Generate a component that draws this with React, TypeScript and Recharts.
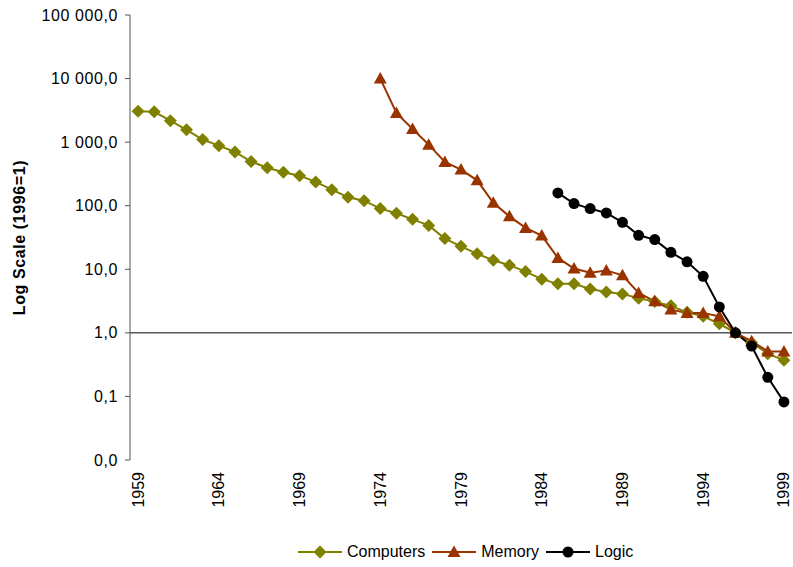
import React from 'react';
import { LineChart, Line, XAxis, YAxis, ReferenceLine, Legend, Label } from 'recharts';

const years = [
  1959, 1960, 1961, 1962, 1963, 1964, 1965, 1966, 1967, 1968,
  1969, 1970, 1971, 1972, 1973, 1974, 1975, 1976, 1977, 1978,
  1979, 1980, 1981, 1982, 1983, 1984, 1985, 1986, 1987, 1988,
  1989, 1990, 1991, 1992, 1993, 1994, 1995, 1996, 1997, 1998, 1999,
];

const computers = [
  3050, 3000, 2180, 1560, 1100, 880, 700, 495, 395, 335,
  297, 237, 179, 136, 120, 90, 76, 61, 49, 30.4,
  23, 17.5, 13.9, 11.6, 9.2, 7.0, 5.9, 5.9, 4.9, 4.4,
  4.1, 3.5, 3.1, 2.66, 2.1, 1.82, 1.39, 1.0, 0.7, 0.47, 0.37,
];

const memory = [
  null, null, null, null, null, null, null, null, null, null,
  null, null, null, null, null, 10000, 2880, 1610, 914, 489,
  370, 251, 111, 68, 44.8, 33.9, 15.1, 10.3, 8.8, 9.6,
  8.05, 4.25, 3.14, 2.32, 2.06, 2.06, 1.82, 1.0, 0.74, 0.51, 0.51,
];

const logic = [
  null, null, null, null, null, null, null, null, null, null,
  null, null, null, null, null, null, null, null, null, null,
  null, null, null, null, null, null, 159, 108, 90, 77,
  54.8, 34.2, 29.3, 18.5, 13.1, 7.76, 2.56, 1.0, 0.62, 0.2, 0.082,
];

const xTicks = [1959, 1964, 1969, 1974, 1979, 1984, 1989, 1994, 1999];
const yTicks = [0.01, 0.1, 1, 10, 100, 1000, 10000, 100000];
const yAxisTitle = 'Log Scale (1996=1)';

const series = [
  { key: 'Computers', color: '#808000', kind: 'diamond' },
  { key: 'Memory', color: '#993300', kind: 'triangle' },
  { key: 'Logic', color: '#000000', kind: 'circle' },
];

const data = years.map((year, i) => ({
  year,
  Computers: computers[i],
  Memory: memory[i],
  Logic: logic[i],
}));

const FONT = '"Liberation Sans", Arial, sans-serif';

function fmt(v: number): string {
  const s = v.toFixed(1);
  const [ip, dp] = s.split('.');
  return ip.replace(/\B(?=(\d{3})+(?!\d))/g, ' ') + ',' + dp;
}

function Marker({ kind, cx, cy, color }: any) {
  if (kind === 'diamond') {
    return <path d={`M${cx},${cy - 6.5}L${cx + 6.5},${cy}L${cx},${cy + 6.5}L${cx - 6.5},${cy}Z`} fill={color} />;
  }
  if (kind === 'triangle') {
    return <path d={`M${cx},${cy - 6.5}L${cx + 6.5},${cy + 5}L${cx - 6.5},${cy + 5}Z`} fill={color} />;
  }
  return <circle cx={cx} cy={cy} r={5.5} fill={color} />;
}

const makeDot = (kind: string, color: string) => (props: any) => {
  const { cx, cy, index } = props;
  const k = `dot-${kind}-${index}`;
  if (cx == null || cy == null || Number.isNaN(cx) || Number.isNaN(cy)) return <g key={k} />;
  return (
    <g key={k}>
      <Marker kind={kind} cx={cx} cy={cy} color={color} />
    </g>
  );
};

const XTick = (props: any) => {
  const { x, y, payload } = props;
  const ty = y + 12;
  return (
    <text
      x={x}
      y={ty}
      transform={`rotate(-90, ${x}, ${ty})`}
      textAnchor="end"
      dominantBaseline="central"
      fontSize={16}
      fontFamily={FONT}
      fill="#000"
    >
      {payload.value}
    </text>
  );
};

const YTick = (props: any) => {
  const { x, y, payload } = props;
  return (
    <text
      x={x}
      y={y}
      textAnchor="end"
      dominantBaseline="central"
      fontSize={16}
      fontFamily={FONT}
      letterSpacing={0.6}
      fill="#000"
    >
      {fmt(payload.value)}
    </text>
  );
};

const LegendContent = () => (
  <div style={{ display: 'flex', alignItems: 'center', paddingLeft: 298, fontFamily: FONT }}>
    {series.map((s) => (
      <div key={s.key} style={{ display: 'flex', alignItems: 'center', marginRight: 7 }}>
        <svg width={44} height={16} style={{ display: 'block' }}>
          <line x1={0} y1={8} x2={44} y2={8} stroke={s.color} strokeWidth={2} />
          <Marker kind={s.kind} cx={22} cy={8} color={s.color} />
        </svg>
        <span style={{ marginLeft: 5, fontSize: 16, color: '#000', lineHeight: '20px' }}>{s.key}</span>
      </div>
    ))}
  </div>
);

export default function App() {
  return (
    <div style={{ position: 'absolute', left: 0, top: 0, width: 793, height: 567, background: '#fff', fontFamily: FONT }}>
      <LineChart width={793} height={567} data={data} margin={{ top: 15, right: 1, bottom: 47, left: 0 }}>
        <XAxis
          dataKey="year"
          type="number"
          domain={[1958.5, 1999.5]}
          ticks={xTicks}
          allowDataOverflow
          axisLine={false}
          tickLine={false}
          tickSize={0}
          tickMargin={0}
          height={60}
          tick={<XTick />}
          interval={0}
        />
        <YAxis
          scale="log"
          type="number"
          domain={[0.01, 100000]}
          ticks={yTicks}
          allowDataOverflow
          width={130}
          tickSize={5}
          tickMargin={7}
          interval={0}
          tick={<YTick />}
          axisLine={{ stroke: '#555', strokeWidth: 1 }}
          tickLine={{ stroke: '#555', strokeWidth: 1 }}
        >
          <Label
            content={(p: any) => {
              const vb = p.viewBox || { x: 0, y: 15, width: 130, height: 445 };
              const cx = vb.x + 19;
              const cy = vb.y + vb.height / 2;
              return (
                <text
                  x={cx}
                  y={cy}
                  transform={`rotate(-90, ${cx}, ${cy})`}
                  textAnchor="middle"
                  dominantBaseline="central"
                  fontSize={16}
                  fontWeight="bold"
                  letterSpacing={0.6}
                  fontFamily={FONT}
                  fill="#000"
                >
                  {yAxisTitle}
                </text>
              );
            }}
          />
        </YAxis>
        <ReferenceLine y={1} stroke="#000" strokeWidth={1} />
        {series.map((s) => (
          <Line
            key={s.key}
            dataKey={s.key}
            stroke={s.color}
            strokeWidth={2}
            dot={makeDot(s.kind, s.color)}
            activeDot={false}
            isAnimationActive={false}
            connectNulls={false}
            type="linear"
          />
        ))}
        <Legend
          layout="horizontal"
          verticalAlign="middle"
          align="center"
          content={<LegendContent />}
          wrapperStyle={{ top: 542, left: 0, width: 793 }}
        />
      </LineChart>
    </div>
  );
}
